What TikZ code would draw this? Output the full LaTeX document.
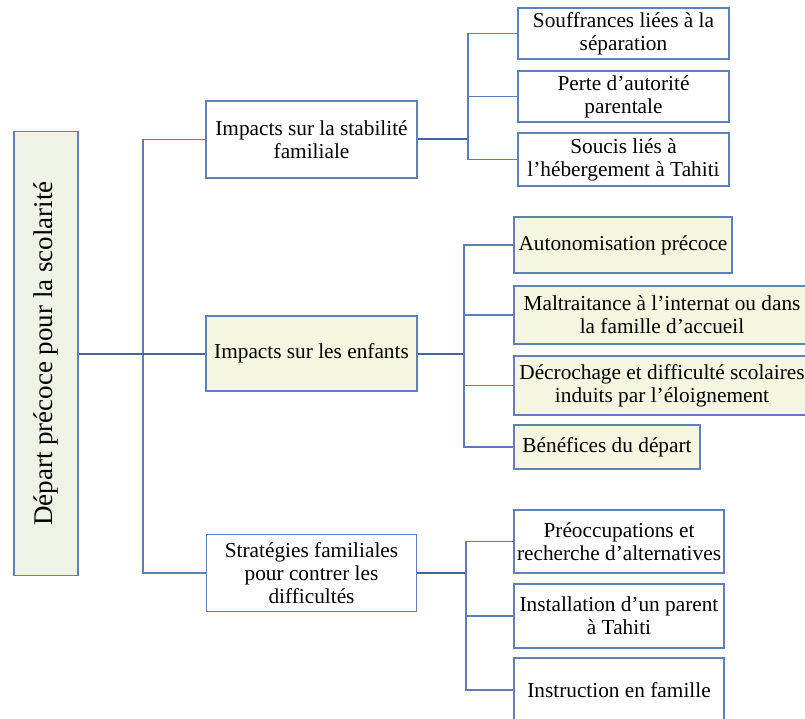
\documentclass[tikz,border=0pt]{standalone}
\usepackage{fontspec}
\setmainfont{Liberation Serif}
\usepackage{graphicx}
\definecolor{bordc}{HTML}{6080B8}
\definecolor{linec}{HTML}{5B7DB8}
\definecolor{trunkc}{HTML}{4262A0}
\definecolor{rootfill}{HTML}{EEF3E5}
\definecolor{yfill}{HTML}{F6F5E0}
\tikzset{
  box/.style={draw=bordc, line width=1.2pt, fill=white, inner sep=1pt, align=center,
     font=\fontsize{21.3}{22.8}\selectfont, text=black},
  ybox/.style={box, fill=yfill},
  conn/.style={draw=linec, line width=1.2pt},
  trunk/.style={draw=trunkc, line width=2pt},
}
\begin{document}
\begin{tikzpicture}[x=1pt,y=-1pt]
\useasboundingbox (0,0) rectangle (805,719);
\clip (0,0) rectangle (805,719);
\fill[white] (0,0) rectangle (805,719);
% root
\node[box, fill=rootfill, minimum width=64pt, minimum height=444pt, font=\fontsize{27}{30}\selectfont] (root) at (46,353.5) {\rotatebox{90}{Départ précoce pour la scolarité}};
% level 1
\node[box, minimum width=211pt, minimum height=77pt] (A) at (311.5,139.5) {Impacts sur la stabilité\\familiale};
\node[ybox, minimum width=211pt, minimum height=75pt] (B) at (311.5,353.5) {Impacts sur les enfants};
\node[box, minimum width=210pt, minimum height=77pt] (C) at (311.5,573) {Stratégies familiales\\pour contrer les\\difficultés};
% A children
\node[box, minimum width=211pt, minimum height=51pt] (A1) at (623.5,33.5) {Souffrances liées à la\\séparation};
\node[box, minimum width=211pt, minimum height=51pt] (A2) at (623.5,96.5) {Perte d’autorité\\parentale};
\node[box, minimum width=211pt, minimum height=53pt] (A3) at (623.5,159.5) {Soucis liés à\\l’hébergement à Tahiti};
% B children
\node[ybox, minimum width=218pt, minimum height=56pt] (B1) at (623,245) {Autonomisation précoce};
\node[ybox, minimum width=296pt, minimum height=58pt] (B2) at (662,315) {Maltraitance à l’internat ou dans\\la famille d’accueil};
\node[ybox, minimum width=296pt, minimum height=59pt] (B3) at (662,385.5) {Décrochage et difficulté scolaires\\induits par l’éloignement};
\node[ybox, minimum width=186pt, minimum height=44pt] (B4) at (607,447) {Bénéfices du départ};
% C children
\node[box, minimum width=210pt, minimum height=63pt] (C1) at (619,541.5) {Préoccupations et\\recherche d’alternatives};
\node[box, minimum width=210pt, minimum height=64pt] (C2) at (619,616) {Installation d’un parent\\à Tahiti};
\node[box, minimum width=210pt, minimum height=64pt] (C3) at (619,690) {Instruction en famille};
% junction columns
\coordinate (jt) at (143,0);
\coordinate (ja) at (468,0);
\coordinate (jb) at (464,0);
\coordinate (jc) at (466,0);
% connectors
\draw[conn] (A.west) -| (jt |- C.west) -- (C.west);
\draw[trunk] (root.east) -- (B.west);
\draw[trunk] (A.east) -- (ja |- A.east);
\draw[conn] (A1.west) -| (ja |- A3.west) -- (A3.west);
\draw[conn] (A2.west) -- (ja |- A2.west);
\draw[trunk] (B.east) -- (jb |- B.east);
\draw[conn] (B1.west) -| (jb |- B4.west) -- (B4.west);
\draw[conn] (B2.west) -- (jb |- B2.west);
\draw[conn] (B3.west) -- (jb |- B3.west);
\draw[trunk] (C.east) -- (jc |- C.east);
\draw[conn] (C1.west) -| (jc |- C3.west) -- (C3.west);
\draw[conn] (C2.west) -- (jc |- C2.west);
\end{tikzpicture}
\end{document}
